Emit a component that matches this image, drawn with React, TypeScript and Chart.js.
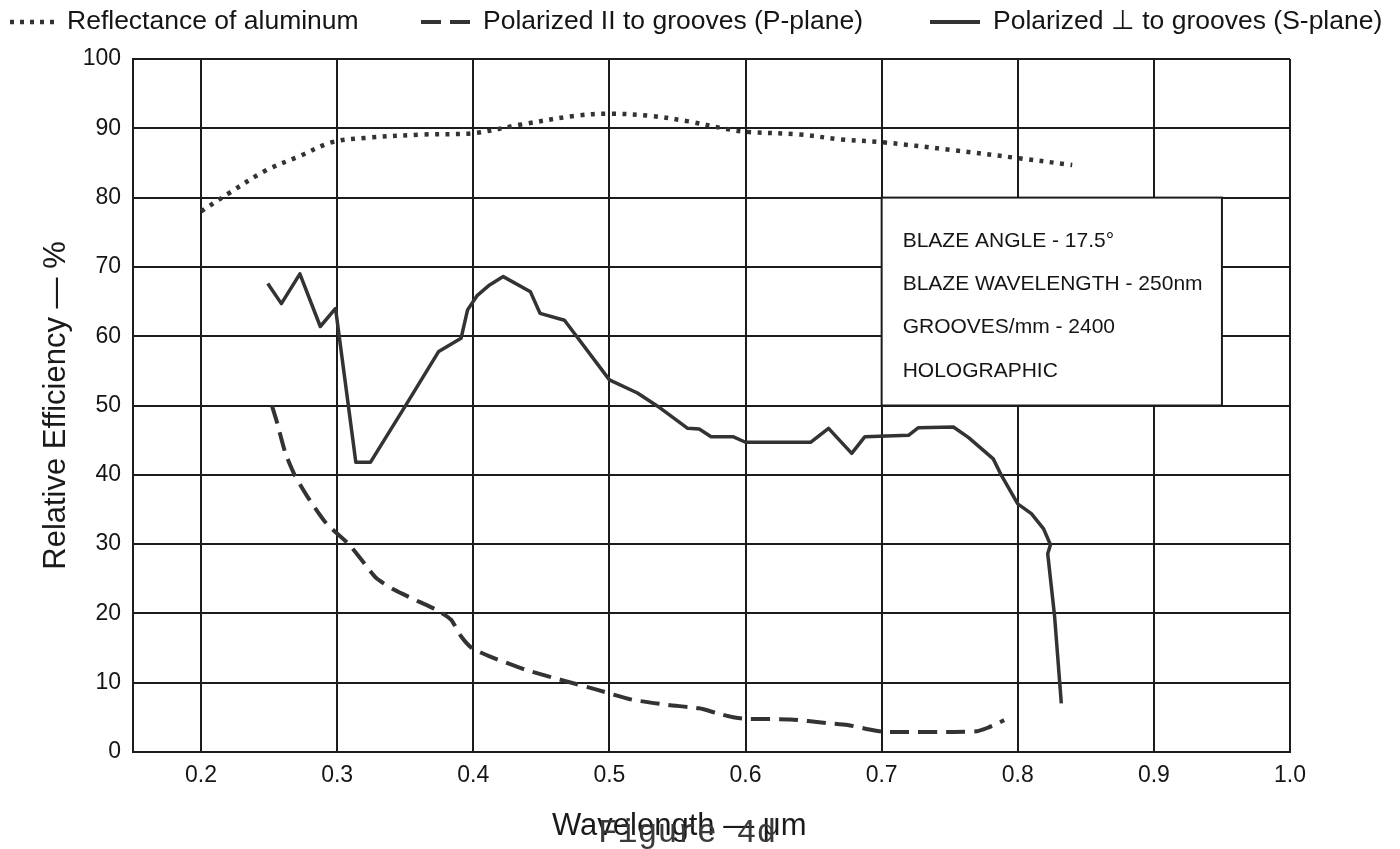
import React, { useEffect, useRef } from 'react';
import { Chart, registerables } from 'chart.js';

Chart.register(...registerables);

// ---------- data ----------
const seriesNames = [
  'Reflectance of aluminum',
  'Polarized II to grooves (P-plane)',
  'Polarized \u22A5 to grooves (S-plane)',
];

const xTickValues = [0.2, 0.3, 0.4, 0.5, 0.6, 0.7, 0.8, 0.9, 1.0];
const xTickLabels = ['0.2', '0.3', '0.4', '0.5', '0.6', '0.7', '0.8', '0.9', '1.0'];

// Reflectance of aluminum (dotted)
const reflWl = [0.2, 0.221, 0.2475, 0.2726, 0.2964, 0.32, 0.362, 0.4, 0.434, 0.475, 0.5, 0.53, 0.558, 0.586, 0.6, 0.64, 0.67, 0.7, 0.75, 0.8, 0.84];
const reflVal = [78.0, 80.7, 83.9, 86.0, 88.0, 88.6, 89.1, 89.3, 90.5, 91.8, 92.1, 91.8, 91.0, 89.9, 89.5, 89.1, 88.4, 88.0, 86.9, 85.7, 84.7];

// Polarized parallel to grooves, P-plane (dashed)
const pWl = [0.252, 0.2556, 0.262, 0.2687, 0.278, 0.292, 0.308, 0.318, 0.3287, 0.342, 0.36, 0.373, 0.3836, 0.391, 0.399, 0.412, 0.438, 0.4645, 0.4906, 0.5167, 0.543, 0.566, 0.579, 0.59, 0.6, 0.633, 0.659, 0.675, 0.692, 0.702, 0.72, 0.753, 0.77, 0.778, 0.786, 0.79];
const pVal = [50, 47.7, 43.1, 40.0, 36.9, 33.0, 30.1, 27.7, 25.1, 23.4, 21.7, 20.5, 19.1, 16.7, 15.0, 13.8, 11.9, 10.4, 9.0, 7.55, 6.8, 6.3, 5.6, 5.05, 4.8, 4.7, 4.2, 3.9, 3.2, 2.9, 2.9, 2.9, 3.0, 3.5, 4.2, 4.6];

// Polarized perpendicular to grooves, S-plane (solid)
const sWl = [0.249, 0.259, 0.2726, 0.2876, 0.2988, 0.3137, 0.3244, 0.35, 0.3746, 0.391, 0.3958, 0.403, 0.412, 0.422, 0.442, 0.449, 0.467, 0.5, 0.5206, 0.5354, 0.5575, 0.566, 0.5747, 0.5907, 0.6, 0.648, 0.661, 0.678, 0.6877, 0.7197, 0.727, 0.7527, 0.7637, 0.782, 0.788, 0.8, 0.81, 0.819, 0.824, 0.822, 0.827, 0.832];
const sVal = [67.6, 64.7, 69.0, 61.4, 64.0, 41.8, 41.8, 49.9, 57.8, 59.7, 63.8, 65.9, 67.4, 68.6, 66.4, 63.3, 62.3, 53.7, 51.8, 49.9, 46.7, 46.6, 45.5, 45.5, 44.7, 44.7, 46.7, 43.1, 45.5, 45.7, 46.8, 46.9, 45.4, 42.3, 39.9, 35.8, 34.4, 32.2, 29.9, 28.6, 19.7, 7.0];

const infoLines = ['BLAZE ANGLE - 17.5\u00B0', 'BLAZE WAVELENGTH - 250nm', 'GROOVES/mm - 2400', 'HOLOGRAPHIC'];
const infoBox = { x0: 0.7, x1: 0.95, y0: 80, y1: 50 };

const xTitle = 'Wavelength \u2014 \u03BCm';
const yTitle = 'Relative Efficiency \u2014 %';
const figureLabel = 'Figure 4d';

// ---------- styles ----------
const FONT = '"Liberation Sans", Arial, Helvetica, sans-serif';
const NARROW = '"Liberation Sans Narrow", "Arial Narrow", "Liberation Sans", sans-serif';
const INK = '#333333';
const GRID = '#1c1c1c';

const zip = (xs: number[], ys: number[]) => xs.map((x, i) => ({ x, y: ys[i] }));

const legendItems = [
  { lineX: 10, textX: 67, dash: [4, 6], width: 4.5 },
  { lineX: 421, textX: 483, dash: [20, 9], width: 4 },
  { lineX: 930, textX: 993, dash: [] as number[], width: 4 },
];

const overlayPlugin = {
  id: 'overlay',
  beforeDatasetsDraw(chart: any) {
    const { ctx, scales } = chart;
    const xs = scales.x, ys = scales.y;
    const l = xs.getPixelForValue(infoBox.x0);
    const r = xs.getPixelForValue(infoBox.x1);
    const t = ys.getPixelForValue(infoBox.y0);
    const b = ys.getPixelForValue(infoBox.y1);
    ctx.save();
    ctx.fillStyle = '#ffffff';
    ctx.fillRect(l, t, r - l, b - t);
    ctx.strokeStyle = GRID;
    ctx.lineWidth = 2;
    ctx.strokeRect(l, t, r - l, b - t);
    ctx.fillStyle = '#151515';
    ctx.font = `21px ${FONT}`;
    ctx.textBaseline = 'alphabetic';
    ctx.textAlign = 'left';
    infoLines.forEach((s, i) => ctx.fillText(s, l + 21, t + 49 + i * 43.3));
    ctx.restore();
  },
  afterDraw(chart: any) {
    const { ctx } = chart;
    ctx.save();
    // legend font: condensed face if present, otherwise regular at a width-matched size
    ctx.font = `32px ${NARROW}`;
    const narrowW = ctx.measureText(seriesNames[0]).width;
    const legendFont = narrowW < 305 ? `32px ${NARROW}` : `26.5px ${FONT}`;
    legendItems.forEach((it, i) => {
      ctx.beginPath();
      ctx.setLineDash(it.dash);
      ctx.lineWidth = it.width;
      ctx.strokeStyle = INK;
      ctx.lineCap = 'butt';
      ctx.moveTo(it.lineX, 22);
      ctx.lineTo(it.lineX + 50, 22);
      ctx.stroke();
      ctx.setLineDash([]);
      ctx.fillStyle = '#151515';
      ctx.font = legendFont;
      ctx.textBaseline = 'middle';
      ctx.textAlign = 'left';
      ctx.fillText(seriesNames[i], it.textX, 22);
    });
    // x axis title with overlapping figure caption
    ctx.fillStyle = '#1a1a1a';
    ctx.font = `31px ${FONT}`;
    ctx.textBaseline = 'alphabetic';
    ctx.fillText(xTitle, 552, 835);
    ctx.fillStyle = '#3a3a3a';
    ctx.font = `33px "Liberation Mono", "DejaVu Sans Mono", monospace`;
    ctx.fillText(figureLabel, 598, 842);
    ctx.restore();
  },
};

export default function App() {
  const ref = useRef<HTMLCanvasElement | null>(null);

  useEffect(() => {
    if (!ref.current) return;
    const chart = new Chart(ref.current, {
      type: 'line',
      data: {
        datasets: [
          {
            label: seriesNames[0],
            data: zip(reflWl, reflVal),
            borderColor: INK,
            borderWidth: 4.5,
            borderDash: [4, 6.5],
            pointRadius: 0,
            tension: 0.35,
            fill: false,
          },
          {
            label: seriesNames[1],
            data: zip(pWl, pVal),
            borderColor: INK,
            borderWidth: 4,
            borderDash: [19, 9],
            pointRadius: 0,
            tension: 0.2,
            fill: false,
          },
          {
            label: seriesNames[2],
            data: zip(sWl, sVal),
            borderColor: INK,
            borderWidth: 3.5,
            pointRadius: 0,
            tension: 0,
            borderJoinStyle: 'round',
            fill: false,
          },
        ],
      },
      options: {
        animation: false,
        responsive: true,
        maintainAspectRatio: false,
        devicePixelRatio: 1,
        parsing: true,
        layout: { padding: { left: 0, top: 59, right: 110, bottom: 0 } },
        plugins: {
          legend: { display: false },
          tooltip: { enabled: false },
          title: { display: false },
        },
        scales: {
          x: {
            type: 'linear',
            min: 0.15,
            max: 1.0,
            afterBuildTicks: (scale: any) => {
              scale.ticks = xTickValues.map((v) => ({ value: v }));
            },
            afterFit: (scale: any) => {
              scale.height = 97;
            },
            ticks: {
              callback: (_v: any, i: number) => xTickLabels[i],
              font: { family: FONT, size: 23 },
              color: '#151515',
              padding: 10,
              maxRotation: 0,
              autoSkip: false,
            },
            grid: { color: GRID, lineWidth: 2, drawTicks: false },
            border: { display: true, color: GRID, width: 2 },
          },
          y: {
            type: 'linear',
            min: 0,
            max: 100,
            afterFit: (scale: any) => {
              scale.width = 133;
            },
            ticks: {
              stepSize: 10,
              font: { family: FONT, size: 23 },
              color: '#151515',
              padding: 12,
            },
            grid: { color: GRID, lineWidth: 2, drawTicks: false },
            border: { display: true, color: GRID, width: 2 },
            title: {
              display: true,
              text: yTitle,
              font: { family: FONT, size: 31 },
              color: '#1a1a1a',
              padding: { top: 38, bottom: 0 },
            },
          },
        },
      },
      plugins: [overlayPlugin],
    } as any);
    return () => chart.destroy();
  }, []);

  return (
    <div style={{ position: 'absolute', left: 0, top: 0, width: 1400, height: 849, background: '#fff' }}>
      <canvas ref={ref} />
    </div>
  );
}
